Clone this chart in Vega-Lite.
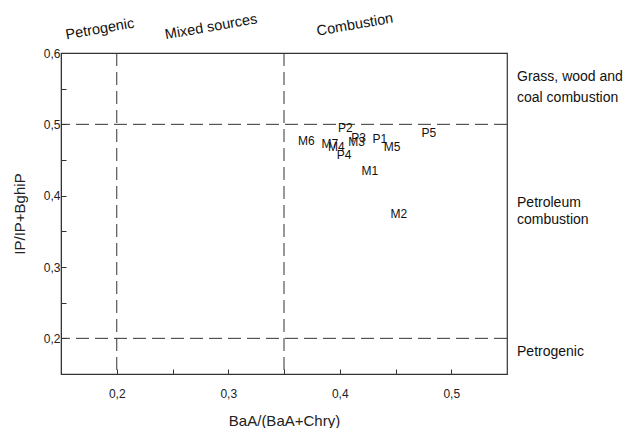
{
  "$schema": "https://vega.github.io/schema/vega-lite/v6.json",
  "width": 446,
  "height": 321,
  "autosize": {"type": "none"},
  "padding": {"left": 61, "top": 53, "right": 126, "bottom": 54},
  "background": "white",
  "config": {
    "font": "Liberation Sans",
    "locale": {"number": {"decimal": ",", "thousands": ".", "grouping": [3], "currency": ["", ""]}},
    "view": {"stroke": "#333333", "strokeWidth": 1.2},
    "axis": {
      "domainColor": "#333333",
      "tickColor": "#333333",
      "labelColor": "#222222",
      "titleColor": "#222222",
      "labelFont": "Liberation Sans",
      "titleFont": "Liberation Sans",
      "labelFontSize": 12,
      "titleFontSize": 15,
      "titleFontWeight": "normal",
      "grid": false
    }
  },
  "datasets": {
    "points": [
      {"label": "P2", "x": 0.405, "y": 0.495},
      {"label": "M6", "x": 0.370, "y": 0.477},
      {"label": "M7", "x": 0.391, "y": 0.473},
      {"label": "M4", "x": 0.397, "y": 0.468},
      {"label": "P3", "x": 0.417, "y": 0.481},
      {"label": "M3", "x": 0.415, "y": 0.475},
      {"label": "P1", "x": 0.436, "y": 0.479},
      {"label": "M5", "x": 0.447, "y": 0.468},
      {"label": "P4", "x": 0.404, "y": 0.457},
      {"label": "M1", "x": 0.427, "y": 0.435},
      {"label": "M2", "x": 0.453, "y": 0.375},
      {"label": "P5", "x": 0.480, "y": 0.4885}
    ],
    "vlines": [{"x": 0.2}, {"x": 0.35}],
    "hlines": [{"y": 0.5}, {"y": 0.2}],
    "toplabels": [
      {"text": "Petrogenic", "x": 0.185, "y": 0.633},
      {"text": "Mixed sources", "x": 0.2846, "y": 0.636},
      {"text": "Combustion", "x": 0.4137, "y": 0.639}
    ],
    "rightlabels": [
      {"text": "Grass, wood and", "x": 0.559, "y": 0.5664},
      {"text": "coal combustion", "x": 0.559, "y": 0.537},
      {"text": "Petroleum", "x": 0.559, "y": 0.39},
      {"text": "combustion", "x": 0.559, "y": 0.3664},
      {"text": "Petrogenic", "x": 0.559, "y": 0.1804}
    ]
  },
  "layer": [
    {
      "data": {"name": "vlines"},
      "mark": {"type": "rule", "strokeDash": [13, 6], "color": "#333333", "strokeWidth": 1},
      "encoding": {
        "x": {
          "field": "x", "type": "quantitative",
          "scale": {"domain": [0.15, 0.55], "nice": false, "zero": false},
          "axis": {
            "title": "BaA/(BaA+Chry)",
            "values": [0.2, 0.25, 0.3, 0.35, 0.4, 0.45, 0.5],
            "labelExpr": "abs(datum.value*10 - round(datum.value*10)) < 0.01 ? format(datum.value, '.1f') : ''",
            "labelOverlap": false,
            "labelFlush": false,
            "tickSize": -5,
            "labelPadding": 19,
            "titlePadding": 14
          }
        }
      }
    },
    {
      "data": {"name": "hlines"},
      "mark": {"type": "rule", "strokeDash": [13, 6], "color": "#333333", "strokeWidth": 1},
      "encoding": {
        "y": {
          "field": "y", "type": "quantitative",
          "scale": {"domain": [0.15, 0.6], "nice": false, "zero": false},
          "axis": {
            "title": "IP/IP+BghiP",
            "values": [0.2, 0.25, 0.3, 0.35, 0.4, 0.45, 0.5, 0.55, 0.6],
            "labelExpr": "abs(datum.value*10 - round(datum.value*10)) < 0.01 ? format(datum.value, '.1f') : ''",
            "labelOverlap": false,
            "labelFlush": false,
            "labelBound": false,
            "tickSize": -5,
            "labelPadding": 6,
            "titlePadding": 16
          }
        }
      }
    },
    {
      "data": {"name": "points"},
      "mark": {"type": "text", "fontSize": 12, "font": "Liberation Sans", "color": "#111111"},
      "encoding": {
        "x": {"field": "x", "type": "quantitative"},
        "y": {"field": "y", "type": "quantitative"},
        "text": {"field": "label"}
      }
    },
    {
      "data": {"name": "toplabels"},
      "mark": {"type": "text", "fontSize": 14.5, "font": "Liberation Sans", "angle": -10, "color": "#111111", "clip": false},
      "encoding": {
        "x": {"field": "x", "type": "quantitative"},
        "y": {"field": "y", "type": "quantitative"},
        "text": {"field": "text"}
      }
    },
    {
      "data": {"name": "rightlabels"},
      "mark": {"type": "text", "fontSize": 14, "font": "Liberation Sans", "align": "left", "color": "#111111", "clip": false},
      "encoding": {
        "x": {"field": "x", "type": "quantitative"},
        "y": {"field": "y", "type": "quantitative"},
        "text": {"field": "text"}
      }
    }
  ]
}
